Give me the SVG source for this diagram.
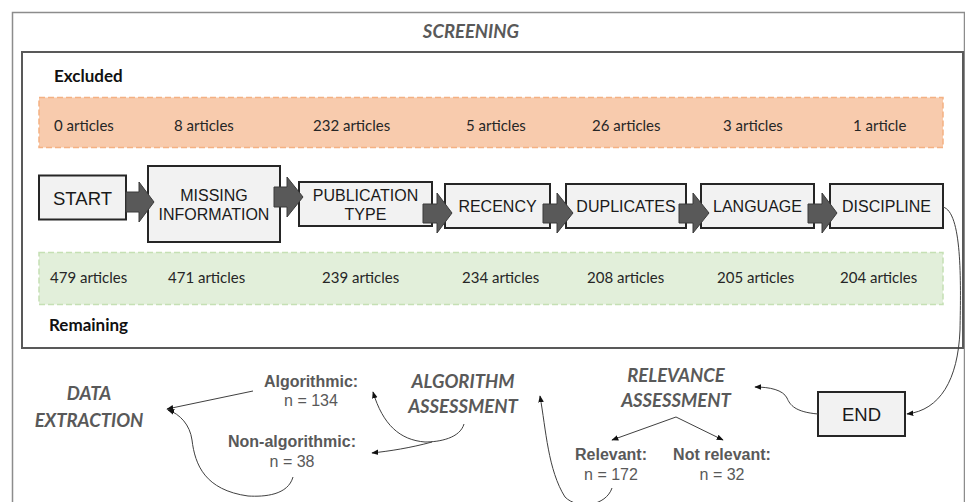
<svg xmlns="http://www.w3.org/2000/svg" width="965" height="502" viewBox="0 0 965 502">
<defs>
<style>
.box{fill:#f2f2f2;stroke:#262626;stroke-width:2}
.bt{font-family:"Liberation Sans",Arial,sans-serif;font-size:16px;fill:#1a1a1a;text-anchor:middle}
.cnt{font-family:Lato,"Open Sans",sans-serif;font-size:15px;fill:#262626}
.hd{font-family:Lato,"Open Sans",sans-serif;font-size:17px;font-weight:bold;fill:#111}
.ttl{font-family:Lato,"Open Sans",sans-serif;font-size:18.5px;font-weight:bold;font-style:italic;fill:#595959;text-anchor:middle}
.lb{font-family:"Liberation Sans",Arial,sans-serif;font-size:16px;fill:#595959;text-anchor:middle}
.lbb{font-family:"Liberation Sans",Arial,sans-serif;font-size:16px;font-weight:bold;fill:#595959;text-anchor:middle}
.blk{fill:#595959;stroke:#3a3a3a;stroke-width:1}
.con{fill:none;stroke:#404040;stroke-width:1}
</style>
<marker id="ah" viewBox="0 0 10 10" refX="9" refY="5" markerWidth="7" markerHeight="7" orient="auto-start-reverse" markerUnits="userSpaceOnUse">
<path d="M0,1 L10,5 L0,9 z" fill="#111"/>
</marker>
</defs>
<rect width="965" height="502" fill="#fff"/>
<g id="frame">
<rect x="12.5" y="12.5" width="952" height="500" fill="none" stroke="#8c8c8c" stroke-width="1.5"/>
<text class="ttl" x="471" y="38">SCREENING</text>
<rect x="22" y="52" width="941" height="296" fill="none" stroke="#595959" stroke-width="2"/>
<text class="hd" x="54" y="82">Excluded</text>
<text class="hd" x="49" y="331">Remaining</text>
</g>
<g id="excluded">
<rect x="39" y="97.5" width="904" height="50" fill="#f8cbad" stroke="#f4b183" stroke-width="1.5" stroke-dasharray="6,3"/>
<text class="cnt" x="54" y="131">0 articles</text>
<text class="cnt" x="174" y="131">8 articles</text>
<text class="cnt" x="313" y="131">232 articles</text>
<text class="cnt" x="466" y="131">5 articles</text>
<text class="cnt" x="592" y="131">26 articles</text>
<text class="cnt" x="723" y="131">3 articles</text>
<text class="cnt" x="853" y="131">1 article</text>
</g>
<g id="remaining">
<rect x="39" y="252.5" width="904" height="52" fill="#e2efda" stroke="#c5e0b4" stroke-width="1.5" stroke-dasharray="6,3"/>
<text class="cnt" x="50" y="283">479 articles</text>
<text class="cnt" x="168" y="283">471 articles</text>
<text class="cnt" x="322" y="283">239 articles</text>
<text class="cnt" x="462" y="283">234 articles</text>
<text class="cnt" x="587" y="283">208 articles</text>
<text class="cnt" x="717" y="283">205 articles</text>
<text class="cnt" x="840" y="283">204 articles</text>
</g>
<g id="start"><rect class="box" x="39" y="175.5" width="87" height="44"/><text class="bt" x="82.5" y="204.5" style="font-size:18.5px">START</text></g>
<g id="missing"><rect class="box" x="148" y="166" width="132" height="76"/><text class="bt" x="214" y="201">MISSING</text><text class="bt" x="214" y="220">INFORMATION</text></g>
<g id="publication"><rect class="box" x="299" y="182" width="133" height="44"/><text class="bt" x="365.5" y="201">PUBLICATION</text><text class="bt" x="365.5" y="220">TYPE</text></g>
<g id="recency"><rect class="box" x="445" y="184" width="105" height="44"/><text class="bt" x="497.5" y="212">RECENCY</text></g>
<g id="duplicates"><rect class="box" x="566" y="184" width="120" height="44"/><text class="bt" x="626" y="212">DUPLICATES</text></g>
<g id="language"><rect class="box" x="701" y="184" width="113" height="44"/><text class="bt" x="757.5" y="212">LANGUAGE</text></g>
<g id="discipline"><rect class="box" x="830" y="184" width="113" height="44"/><text class="bt" x="886.5" y="212">DISCIPLINE</text></g>
<g id="end"><rect class="box" x="818" y="392" width="87" height="44"/><text class="bt" x="861.5" y="421" style="font-size:18.5px">END</text></g>
<g id="t-relevance"><text class="ttl" x="676" y="382">RELEVANCE</text><text class="ttl" x="676" y="407">ASSESSMENT</text></g>
<g id="t-algorithm"><text class="ttl" x="463" y="388">ALGORITHM</text><text class="ttl" x="463" y="413">ASSESSMENT</text></g>
<g id="t-data"><text class="ttl" x="89" y="400">DATA</text><text class="ttl" x="89" y="427">EXTRACTION</text></g>
<g id="relevant"><text class="lbb" x="611" y="460">Relevant:</text><text class="lb" x="611" y="480">n = 172</text></g>
<g id="notrelevant"><text class="lbb" x="722" y="460">Not relevant:</text><text class="lb" x="722" y="480">n = 32</text></g>
<g id="algorithmic"><text class="lbb" x="311" y="387">Algorithmic:</text><text class="lb" x="311" y="406">n = 134</text></g>
<g id="nonalgorithmic"><text class="lbb" x="292" y="447">Non-algorithmic:</text><text class="lb" x="292" y="467">n = 38</text></g>
<g id="connectors">
<path class="blk" d="M126,192 H139 V182 L154,202 L139,222 V212 H126 z"/>
<path class="blk" d="M274,187 H287 V177 L303,197 L287,217 V207 H274 z"/>
<path class="blk" d="M423,204 H437 V193 L452,213 L437,233 V223 H423 z"/>
<path class="blk" d="M543,204 H557 V193 L573,213 L557,233 V223 H543 z"/>
<path class="blk" d="M679,204 H693 V193 L709,213 L693,233 V223 H679 z"/>
<path class="blk" d="M808,204 H822 V193 L837,213 L822,233 V223 H808 z"/>
<path class="con" marker-end="url(#ah)" d="M943,207 C962,212 961,280 960,330 C958,380 940,410 907,414"/>
<path class="con" marker-end="url(#ah)" d="M818,414 C795,412 790,405 787,398 C783,390 770,387 755,387"/>
<path class="con" marker-end="url(#ah)" d="M676,417 L612,440"/>
<path class="con" marker-end="url(#ah)" d="M676,417 L723,440"/>
<path class="con" marker-end="url(#ah)" d="M612,488 C606,506 578,510 565,497 C548,470 546,430 540,396"/>
<path class="con" marker-end="url(#ah)" d="M464,424 C460,438 440,442 425,442 C400,440 383,425 373,392"/>
<path class="con" marker-end="url(#ah)" d="M432,442 C410,448 390,451 372,453"/>
<path class="con" marker-end="url(#ah)" d="M253,391 L167,409"/>
<path class="con" marker-end="url(#ah)" d="M293,477 C288,495 265,497 248,496 C205,490 195,465 192,440 C190,425 180,414 168,410"/>
</g>
</svg>
